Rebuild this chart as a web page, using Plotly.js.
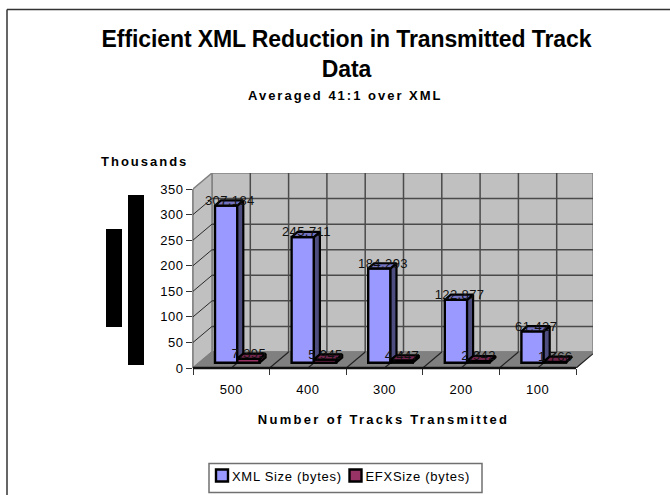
<!DOCTYPE html>
<html>
<head>
<meta charset="utf-8">
<script src="https://cdn.plot.ly/plotly-3.0.1.min.js"></script>
<style>
html,body{margin:0;padding:0;background:#fff;overflow:hidden}
#chart{width:670px;height:495px}
.annotation-text{letter-spacing:2px}
.annotation[data-index="2"] .annotation-text{letter-spacing:2.3px}
.textpoint text{letter-spacing:.4px}
.legendtext{letter-spacing:.7px}
.xtick text,.ytick text{letter-spacing:.5px}
.gtitle{letter-spacing:-.1px}
</style>
</head>
<body>
<div id="chart"></div>
<script>
const categories = ['500','400','300','200','100'];
const xmlBytes = [307184,245711,184293,122877,61427];
const efxBytes = [7395,5945,4447,2942,1766];
const yTicks = [0,50,100,150,200,250,300,350];
const xmlName = 'XML Size (bytes)';
const efxName = 'EFXSize (bytes)';

const W=670,H=495,L=193,R=593,T=173,B=368;
const pxPerCat=76.6, pxPerUnit=179/350;
const xRange=[-0.5,-0.5+(R-L)/pxPerCat], yRange=[0,(B-T)/pxPerUnit];
const dx=v=>v/pxPerCat, dy=v=>v/pxPerUnit;
const px=x=>(x-L)/(R-L), py=y=>(B-y)/(B-T);
const wallX=dx(19), wallY=dy(16);
const xs=categories.map((c,i)=>i);
const xml=xmlBytes.map(v=>v/1000), efx=efxBytes.map(v=>v/1000);
const bw=dx(22.3), shift=dx(6), base=dy(5.3), depthX=dx(6), depthY=dy(5.2);
const fmt=v=>v.toLocaleString('en-US');

function poly(color,pts,lw){return {type:'path',layer:'below',xref:'x',yref:'y',
  path:'M'+pts.map(p=>p[0]+','+p[1]).join('L')+'Z',fillcolor:color,line:{color:lw||'#808080',width:1.5}};}
function seg(x0,y0,x1,y1,color,width){return {type:'line',layer:'below',xref:'x',yref:'y',x0,y0,x1,y1,line:{color,width}};}

const x0=xRange[0], xFront=4.5, xBack=xRange[1], yTop=350;
const shapes=[
  poly('#C0C0C0',[[x0+wallX,wallY],[xBack,wallY],[xBack,yTop+wallY],[x0+wallX,yTop+wallY]]),
  poly('#C0C0C0',[[x0,0],[x0+wallX,wallY],[x0+wallX,yTop+wallY],[x0,yTop]]),
  poly('#808080',[[x0,0],[x0+wallX,wallY],[xBack,wallY],[xFront,0]])
];
yTicks.slice(1).forEach(t=>{
  if(t<350) shapes.push(seg(x0+wallX,t+wallY,xBack,t+wallY,'#4a4a4a',1.5));
  if(t<350) shapes.push(seg(x0,t,x0+wallX,t+wallY,'#2a2a2a',1));
});
for(let k=0;k<=10;k++){
  const xk=x0+k*0.5;
  if(k>0&&k<10) shapes.push(seg(xk+wallX,wallY,xk+wallX,yTop+wallY,'#4a4a4a',1.5));
  if(k>0) shapes.push(seg(xk,0,xk+wallX,wallY,'#222',1.2));
}
shapes.push({type:'line',layer:'below',xref:'paper',yref:'y',x0:0,x1:0,y0:0,y1:yTop,line:{color:'#606060',width:1.5}});
shapes.push({type:'line',layer:'above',xref:'x',yref:'paper',x0:x0,x1:xFront,y0:0,y1:0,line:{color:'#111',width:2.5}});
// page frame and masked block
shapes.push({type:'line',xref:'paper',yref:'paper',x0:px(7),x1:px(670),y0:py(9.5),y1:py(9.5),line:{color:'#333',width:1.5}});
shapes.push({type:'line',xref:'paper',yref:'paper',x0:px(7),x1:px(7),y0:py(9.5),y1:py(495),line:{color:'#333',width:1.5}});
[[106,229,122,327],[128,195,144,365]].forEach(r=>shapes.push({type:'rect',xref:'paper',yref:'paper',
  x0:px(r[0]),x1:px(r[2]),y0:py(r[1]),y1:py(r[3]),fillcolor:'#000',line:{width:0}}));
// legend box
shapes.push({type:'rect',layer:'below',xref:'paper',yref:'paper',x0:px(209),x1:px(482),y0:py(463.5),y1:py(492.5),
  fillcolor:'#fff',line:{color:'#707070',width:1.5}});

function faces(vals,left,floorVals){
  const tx=[],ty=[],sx=[],sy=[];
  vals.forEach((v,i)=>{
    const a=xs[i]+left, b=a+bw, h=base+v, f=base+(floorVals?floorVals[i]:0);
    tx.push(a,a+depthX,b+depthX,b,a,null); ty.push(h,h+depthY,h+depthY,h,h,null);
    sx.push(b,b+depthX,b+depthX,b,b,null); sy.push(h,h+depthY,f+depthY,f,h,null);
  });
  return {tx,ty,sx,sy};
}
const fx=faces(xml,shift-bw,efx), fe=faces(efx,shift,null);
const face=(x,y,color)=>({type:'scatter',mode:'lines',x,y,fill:'toself',fillcolor:color,
  line:{color:'#000',width:2.2},showlegend:false,hoverinfo:'skip',cliponaxis:false});

const traces=[
  {type:'bar',name:xmlName,x:xs.map(i=>i+shift-bw/2),y:xml,base:xs.map(()=>base),width:bw,
   marker:{color:'#9999FF',line:{color:'#000',width:2.4}}},
  {type:'bar',name:efxName,x:xs.map(i=>i+shift+bw/2),y:efx,base:xs.map(()=>base),width:bw,
   marker:{color:'#993366',line:{color:'#000',width:2.4}}},
  face(fx.sx,fx.sy,'#4D4D80'),
  face(fx.tx,fx.ty,'#7373BF'),
  face(fe.sx,fe.sy,'#4D1A33'),
  face(fe.tx,fe.ty,'#73264D'),
  {type:'scatter',mode:'text',x:xs.map(i=>i-dx(1.5)),y:xml.map(v=>v+base+dy(4)),
   text:xmlBytes.map(fmt),textposition:'middle center',textfont:{size:13,color:'#111'},
   showlegend:false,hoverinfo:'skip',cliponaxis:false},
  {type:'scatter',mode:'text',x:xs.map(i=>i+dx(17.5)),y:efx.map(v=>v+base+dy(4)),
   text:efxBytes.map(fmt),textposition:'middle center',textfont:{size:13,color:'#111'},
   showlegend:false,hoverinfo:'skip',cliponaxis:false},
  {type:'scatter',x:[null],y:[null],xaxis:'x2',yaxis:'y',showlegend:false,hoverinfo:'skip'}
];
const FONT='"Liberation Sans",Arial,sans-serif';
const note=(text,x,y,size)=>({text,xref:'paper',yref:'paper',x:px(x),y:py(y),xanchor:'center',yanchor:'middle',
  showarrow:false,font:{family:FONT,size,color:'#000'}});
const layout={
  width:W,height:H,paper_bgcolor:'#fff',plot_bgcolor:'rgba(0,0,0,0)',
  margin:{l:L,r:W-R,t:T,b:H-B,pad:0,autoexpand:false},
  font:{family:FONT,size:13,color:'#000'},
  title:{text:'<b>Efficient XML Reduction in Transmitted Track<br>Data</b>',x:346.5/W,xanchor:'center',y:1-46.6/H,yanchor:'middle',
    font:{family:FONT,size:23,color:'#000'}},
  barmode:'overlay',bargap:0,
  xaxis:{type:'linear',range:xRange,tickmode:'array',tickvals:xs,ticktext:categories,ticks:'outside',ticklen:9,tickcolor:'rgba(0,0,0,0)',
    showgrid:false,zeroline:false,showline:false,tickfont:{size:13}},
  xaxis2:{type:'linear',overlaying:'x',anchor:'y',side:'bottom',range:xRange,tickmode:'array',tickvals:[-0.5,0.5,1.5,2.5,3.5,4.5],
    ticks:'outside',ticklen:6,tickcolor:'#333',tickwidth:1,showticklabels:false,showgrid:false,zeroline:false,showline:false},
  yaxis:{range:yRange,tickmode:'array',tickvals:yTicks,ticks:'outside',ticklen:6,tickcolor:'#333',tickwidth:1,
    showgrid:false,zeroline:false,showline:false,tickfont:{size:13}},
  shapes,
  annotations:[
    note('<b>Averaged 41:1 over XML</b>',345,95.5,13),
    note('<b>Thousands</b>',144,161,13),
    note('<b>Number of Tracks Transmitted</b>',383,419,13)
  ],
  legend:{orientation:'h',x:px(202),xanchor:'left',y:py(460.5),yanchor:'top',bgcolor:'rgba(0,0,0,0)',borderwidth:0,
    entrywidth:88.5,entrywidthmode:'pixels',font:{size:13,color:'#000'},traceorder:'normal'},
  showlegend:true
};
Plotly.newPlot('chart',traces,layout,{displayModeBar:false,staticPlot:true}).then(()=>{
  document.querySelectorAll('.legendtext').forEach(t=>{
    t.setAttribute('x',parseFloat(t.getAttribute('x'))-10);
  });
  document.querySelectorAll('.legendbar').forEach(p=>p.setAttribute('d','M4.5,4.5H-4.5V-4.5H4.5Z'));
});
</script>
</body>
</html>
